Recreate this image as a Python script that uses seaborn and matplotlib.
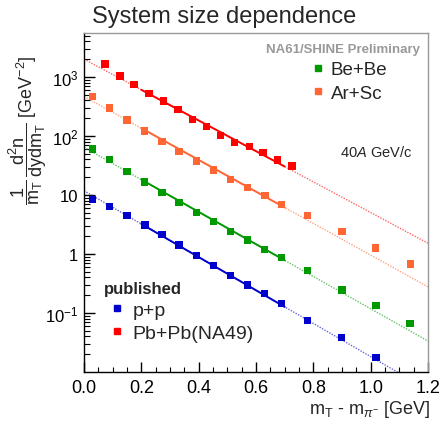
import numpy as np
import pandas as pd
import matplotlib
matplotlib.use("Agg")
import matplotlib.pyplot as plt
from matplotlib.lines import Line2D
from matplotlib.ticker import FixedLocator, FuncFormatter, LogLocator, NullFormatter, MultipleLocator
import seaborn as sns

# ---------------- data ----------------
x_PbPb = [0.073, 0.125, 0.174, 0.227, 0.277, 0.328, 0.378, 0.427, 0.477, 0.526, 0.577, 0.625, 0.675, 0.725]
y_PbPb = [1660, 1040, 740, 530, 392, 279, 189, 144, 103, 77, 67, 53, 39, 31]

x_ArSc = [0.030, 0.090, 0.150, 0.212, 0.272, 0.331, 0.392, 0.451, 0.511, 0.571, 0.632, 0.690, 0.780, 0.900, 1.016, 1.140]
y_ArSc = [471, 298, 187, 122, 80, 54, 37.7, 26.5, 18.5, 13.4, 9.7, 6.85, 4.46, 2.39, 1.26, 0.68]

x_BeBe = [0.030, 0.088, 0.150, 0.212, 0.272, 0.331, 0.392, 0.451, 0.510, 0.570, 0.630, 0.689, 0.780, 0.900, 1.018, 1.137]
y_BeBe = [60, 39.6, 25.2, 16.6, 11.0, 7.46, 5.11, 3.52, 2.42, 1.73, 1.20, 0.865, 0.52, 0.245, 0.133, 0.067]

x_pp = [0.030, 0.089, 0.150, 0.213, 0.272, 0.331, 0.392, 0.451, 0.510, 0.570, 0.630, 0.689, 0.780, 0.899, 1.019]
y_pp = [8.3, 6.34, 4.53, 3.10, 2.12, 1.42, 0.936, 0.643, 0.429, 0.298, 0.216, 0.144, 0.0752, 0.038, 0.0177]

# exponential fits: A * exp(-x / T)
fit_names = ["Pb+Pb", "Ar+Sc", "Be+Be", "p+p"]
fit_A = [2010, 468, 64.3, 11.8]
fit_T = [0.167, 0.1615, 0.1587, 0.1545]
fit_range = (0.2, 0.7)
draw_range = (0.0, 1.2)

colors = {"Pb+Pb": "#ff0000", "Ar+Sc": "#ff6633", "Be+Be": "#009900", "p+p": "#0000cc"}

xticks = [0.0, 0.2, 0.4, 0.6, 0.8, 1.0, 1.2]
ytick_vals = [0.1, 1, 10, 100, 1000]
ytick_labels = [r"$10^{-1}$", "1", "10", r"$10^{2}$", r"$10^{3}$"]

# ---------------- style ----------------
sns.set_theme(style="ticks")
plt.rcParams["font.family"] = ["Liberation Sans", "DejaVu Sans"]
plt.rcParams["mathtext.fontset"] = "custom"
plt.rcParams["mathtext.rm"] = "Liberation Sans"
plt.rcParams["mathtext.it"] = "Liberation Sans:italic"
plt.rcParams["mathtext.bf"] = "Liberation Sans:bold"

fig = plt.figure(figsize=(4.43, 4.35), dpi=100)
ax = fig.add_axes([84 / 443, 1 - 373 / 435, (428 - 84) / 443, (373 - 34) / 435])

# fit lines: dotted over full range, solid over fit range
for name, A, T in zip(fit_names, fit_A, fit_T):
    xs = np.linspace(draw_range[0], draw_range[1], 200)
    df_full = pd.DataFrame({"x": xs, "y": A * np.exp(-xs / T)})
    sns.lineplot(data=df_full, x="x", y="y", ax=ax, color=colors[name], lw=1.0,
                 linestyle=(0, (1, 1)), alpha=0.6, legend=False)
    xf = np.linspace(fit_range[0], fit_range[1], 100)
    df_fit = pd.DataFrame({"x": xf, "y": A * np.exp(-xf / T)})
    sns.lineplot(data=df_fit, x="x", y="y", ax=ax, color=colors[name], lw=1.4,
                 legend=False)

datasets = [("Pb+Pb", x_PbPb, y_PbPb), ("Ar+Sc", x_ArSc, y_ArSc),
            ("Be+Be", x_BeBe, y_BeBe), ("p+p", x_pp, y_pp)]
for name, xv, yv in datasets:
    df = pd.DataFrame({"x": xv, "y": yv})
    sns.scatterplot(data=df, x="x", y="y", ax=ax, marker="s", s=28,
                    color=colors[name], edgecolor="none", zorder=5, legend=False)

ax.set_yscale("log")
ax.set_xlim(0, 1.2)
ax.set_ylim(0.01, 10 ** (3 + 44 / 59))

ax.xaxis.set_major_locator(FixedLocator(xticks))
ax.xaxis.set_minor_locator(MultipleLocator(0.05))
ax.xaxis.set_major_formatter(FuncFormatter(lambda v, p: f"{v:.1f}"))
ax.yaxis.set_major_locator(FixedLocator(ytick_vals))
ax.yaxis.set_major_formatter(FuncFormatter(
    lambda v, p: ytick_labels[ytick_vals.index(v)] if v in ytick_vals else ""))
ax.yaxis.set_minor_locator(LogLocator(base=10, subs=np.arange(2, 10), numticks=20))
ax.yaxis.set_minor_formatter(NullFormatter())

ax.tick_params(which="both", direction="in", top=False, right=False, colors="black")
ax.tick_params(which="major", length=8, width=1.0, labelsize=13, pad=5)
ax.tick_params(which="minor", length=4, width=0.8)
ax.tick_params(axis="x", which="major", length=7)
ax.tick_params(axis="x", which="minor", length=3.5)
ax.tick_params(axis="y", which="major", labelsize=12, pad=4)

for side in ["left", "bottom"]:
    ax.spines[side].set_color("black")
    ax.spines[side].set_linewidth(1.0)
for side in ["top", "right"]:
    ax.spines[side].set_color("#999999")
    ax.spines[side].set_linewidth(1.0)
ax.set_xlabel("")
ax.set_ylabel("")

# titles and labels
fig.text(92 / 443, 1 - 17 / 435, "System size dependence", fontsize=17,
         ha="left", va="center")
fig.text(430 / 443, 1 - 410 / 435, r"m$_{\mathrm{T}}$ - m$_{\pi^{-}}$ [GeV]",
         fontsize=13, ha="right", va="center")
fig.text(28 / 443, 1 - 130 / 435,
         r"$\dfrac{1}{\mathrm{m}_{\mathrm{T}}}\,\dfrac{\mathrm{d}^{2}\mathrm{n}}{\mathrm{dydm}_{\mathrm{T}}}$ [GeV$^{-2}$]",
         fontsize=13, rotation=90, ha="center", va="center")

ax.text(0.977, 0.953, "NA61/SHINE Preliminary", transform=ax.transAxes,
        fontsize=9.5, fontweight="bold", color="#999999", ha="right", va="center")
ax.text((412 - 84) / 344, (373 - 153) / 339, r"40$\mathit{A}$ GeV/c", transform=ax.transAxes,
        fontsize=10.5, ha="right", va="center")

# legends
h1 = [Line2D([], [], marker="s", linestyle="none", color=colors["Be+Be"], markersize=5),
      Line2D([], [], marker="s", linestyle="none", color=colors["Ar+Sc"], markersize=5)]
leg1 = ax.legend(h1, ["Be+Be", "Ar+Sc"], loc="upper left",
                 bbox_to_anchor=((312 - 84) / 344, (373 - 62) / 339),
                 frameon=False, fontsize=13.5, handlelength=0.6, handletextpad=0.4,
                 labelspacing=0.35, borderaxespad=0, borderpad=0)
ax.add_artist(leg1)

h2 = [Line2D([], [], marker="s", linestyle="none", color=colors["p+p"], markersize=5),
      Line2D([], [], marker="s", linestyle="none", color=colors["Pb+Pb"], markersize=5)]
leg2 = ax.legend(h2, ["p+p", "Pb+Pb(NA49)"], loc="upper left",
                 bbox_to_anchor=((111 - 84) / 344, (373 - 302) / 339),
                 frameon=False, fontsize=14, handlelength=0.6, handletextpad=0.5,
                 labelspacing=0.3, borderaxespad=0, borderpad=0)
ax.text((104 - 84) / 344, (373 - 290) / 339, "published", transform=ax.transAxes,
        fontsize=12, fontweight="bold", ha="left", va="center")

fig.savefig("out.png", dpi=100)
